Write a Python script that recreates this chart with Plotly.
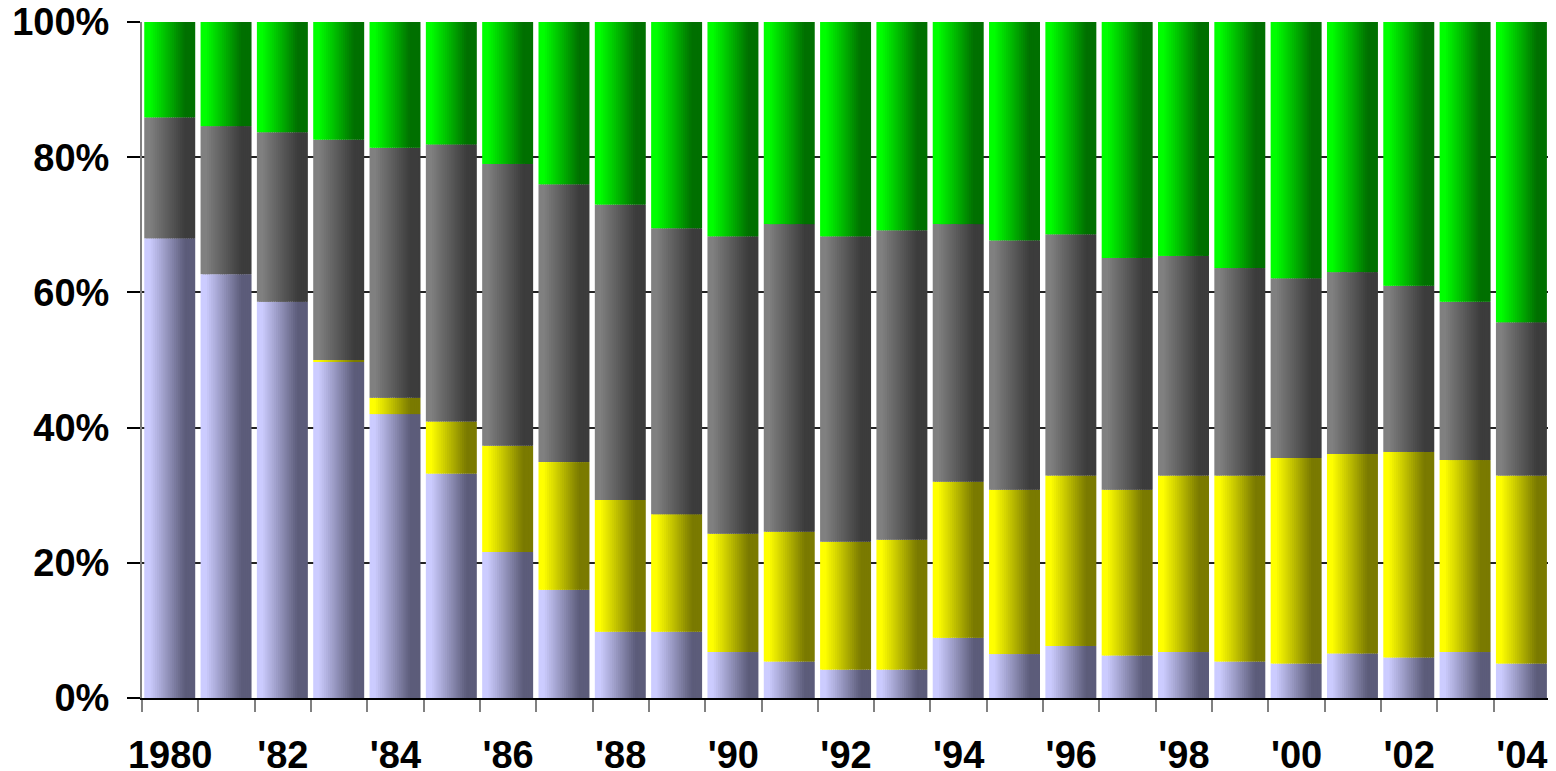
import numpy as np
import plotly.graph_objects as go

years = list(range(1980, 2005))
tick_years = list(range(1980, 2005, 2))
tick_labels = ["1980", "'82", "'84", "'86", "'88", "'90", "'92", "'94", "'96", "'98", "'00", "'02", "'04"]

lavender = [68.0, 62.7, 58.6, 49.7, 42.0, 33.2, 21.6, 16.0, 9.8, 9.8, 6.8, 5.4, 4.2, 4.2, 8.9, 6.5, 7.7, 6.3, 6.8, 5.4, 5.1, 6.6, 6.0, 6.8, 5.1]
yellow = [0.0, 0.0, 0.0, 0.3, 2.4, 7.7, 15.7, 18.9, 19.5, 17.4, 17.5, 19.2, 18.9, 19.2, 23.1, 24.3, 25.2, 24.5, 26.1, 27.5, 30.4, 29.5, 30.4, 28.4, 27.8]
gray = [17.9, 21.9, 25.1, 32.6, 37.0, 41.0, 41.7, 41.1, 43.7, 42.3, 44.0, 45.5, 45.2, 45.8, 38.1, 36.9, 35.7, 34.3, 32.5, 30.7, 26.6, 26.9, 24.6, 23.4, 22.7]
green = [14.1, 15.4, 16.3, 17.4, 18.6, 18.1, 21.0, 24.0, 27.0, 30.5, 31.7, 29.9, 31.7, 30.8, 29.9, 32.3, 31.4, 34.9, 34.6, 36.4, 37.9, 37.0, 39.0, 41.4, 44.4]

series = [lavender, yellow, gray, green]
# (light, dark) gradient ends for each series
grad = [
    ((204, 204, 255), (92, 92, 122)),
    ((255, 255, 0), (122, 122, 0)),
    ((128, 128, 128), (60, 60, 60)),
    ((0, 255, 0), (0, 112, 0)),
]

BAR_W = 0.905
BAR_OFF = -0.46
N = 24
step = BAR_W / N

fig = go.Figure()
base = np.zeros(len(years))
for vals, (c0, c1) in zip(series, grad):
    v = np.array(vals, dtype=float)
    for k in range(N):
        p = (k + 0.5) / N
        t = min(max((p - 0.1) / 0.7, 0.0), 1.0)
        col = tuple(int(round(a + (b - a) * t)) for a, b in zip(c0, c1))
        w = step if k == N - 1 else step * 1.6
        fig.add_trace(go.Bar(
            x=years, y=v, base=base.copy(),
            offset=BAR_OFF + k * step, width=w,
            marker=dict(color="rgb(%d,%d,%d)" % col, line=dict(width=0)),
            showlegend=False, hoverinfo="skip",
        ))
    base = base + v

font_family = "Liberation Sans, Arial, sans-serif"
# page body has an 8px margin, so the figure is sized/placed to compensate
fig.update_layout(
    barmode="overlay",
    width=1548, height=763,
    margin=dict(l=134, r=6, t=14, b=73, autoexpand=False),
    plot_bgcolor="white", paper_bgcolor="white",
    font=dict(family=font_family, size=38, color="black"),
    xaxis=dict(
        range=[1979.5, 2004.5],
        tickmode="array", tickvals=tick_years, ticktext=["<b>%s</b>" % s for s in tick_labels],
        ticks="outside", ticklen=0,
        minor=dict(tick0=1979.5, dtick=1, ticks="outside", ticklen=12, tickcolor="#808080", tickwidth=2),
        showline=True, linecolor="black", linewidth=1.5,
        showgrid=False, zeroline=False,
        tickfont=dict(size=38, family=font_family),
        ticklabelstandoff=23,
        ticklabeloverflow="allow",
        automargin=False,
    ),
    yaxis=dict(
        range=[0, 100],
        tickmode="array", tickvals=[0, 20, 40, 60, 80, 100],
        ticktext=["<b>%d%%</b>" % v for v in [0, 20, 40, 60, 80, 100]],
        ticks="outside", ticklen=13, tickcolor="black", tickwidth=1.5,
        showline=True, linecolor="#808080", linewidth=2,
        showgrid=True, gridcolor="#222222", gridwidth=1.5,
        zeroline=False,
        tickfont=dict(size=38, family=font_family),
        ticklabelstandoff=10,
        ticklabeloverflow="allow",
        automargin=False,
    ),
)

fig.write_html("out.html")
